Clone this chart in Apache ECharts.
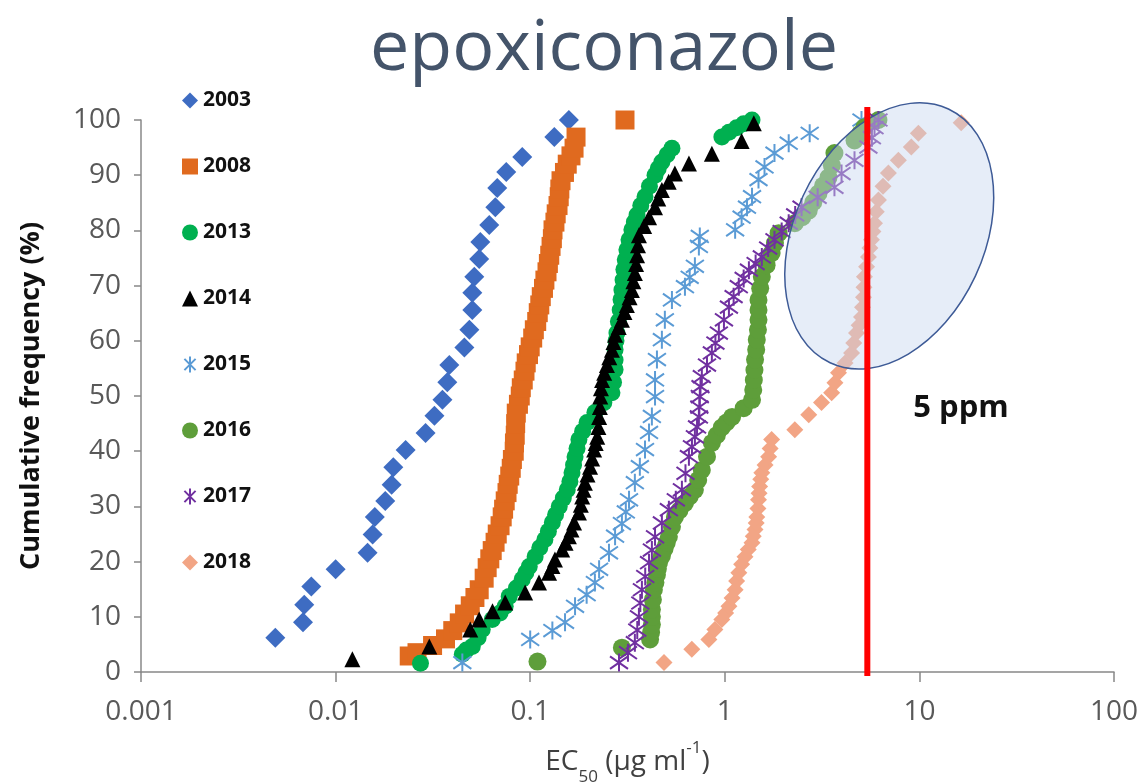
<!DOCTYPE html>
<html>
<head>
<meta charset="utf-8">
<title>epoxiconazole</title>
<script src="https://cdn.jsdelivr.net/npm/echarts@6/dist/echarts.min.js"></script>
<style>
  html, body { margin: 0; padding: 0; background: #fff; }
  #chart { width: 1142px; height: 783px; }
</style>
</head>
<body>
<div id="chart"></div>
<script>
// EC50 (µg/ml) against cumulative frequency (%), one array per sampling year
const years = ['2003', '2008', '2013', '2014', '2015', '2016', '2017', '2018'];
const xTicks = [0.001, 0.01, 0.1, 1, 10, 100];
const ppmLimit = 5.4;

const s2003 = [[0.0049,6.2],[0.0068,9.0],[0.0069,12.2],[0.0075,15.5],[0.0100,18.6],[0.0146,21.6],[0.0155,24.9],[0.0159,28.1],[0.0180,31.0],[0.0194,33.9],[0.0198,37.1],[0.0229,40.2],[0.0290,43.3],[0.0322,46.4],[0.0354,49.3],[0.0375,52.5],[0.0384,55.6],[0.0459,58.8],[0.0487,62.0],[0.0504,65.6],[0.0504,68.7],[0.0516,71.6],[0.0547,74.8],[0.0554,77.9],[0.0616,81.0],[0.0662,84.2],[0.0677,87.7],[0.0753,90.6],[0.0910,93.3],[0.133,96.9],[0.158,100]];
const s2008 = [[0.0239,2.9],[0.0262,3.5],[0.0315,4.8],[0.0367,6.0],[0.040,7.5],[0.0432,8.9],[0.046,10.5],[0.0492,12.0],[0.052,13.5],[0.0547,14.9],[0.058,17.0],[0.0601,18.9],[0.062,20.5],[0.0638,22.0],[0.066,23.5],[0.0677,25.0],[0.070,26.5],[0.0718,28.1],[0.073,29.5],[0.0744,31.0],[0.076,32.5],[0.0771,34.0],[0.0785,35.5],[0.0799,36.9],[0.081,38.5],[0.0828,40.0],[0.083,41.5],[0.0838,42.9],[0.0842,45.0],[0.0848,46.9],[0.087,48.5],[0.0889,50.0],[0.090,51.5],[0.0921,52.9],[0.094,54.5],[0.0954,56.0],[0.098,57.5],[0.100,58.9],[0.103,60.5],[0.105,62.0],[0.108,63.5],[0.110,65.1],[0.112,66.5],[0.114,68.0],[0.117,69.5],[0.119,71.0],[0.122,72.5],[0.124,74.0],[0.126,75.5],[0.128,77.1],[0.130,78.5],[0.131,80.1],[0.134,81.5],[0.136,83.0],[0.139,84.5],[0.141,86.1],[0.142,87.5],[0.144,89.0],[0.150,90.5],[0.155,92.0],[0.162,93.5],[0.168,94.9],[0.172,96.9],[0.307,100]];
const s2013 = [[0.0273,1.6],[0.0448,3.2],[0.047,4.0],[0.0504,4.6],[0.054,6.2],[0.0567,7.7],[0.0638,9.5],[0.070,10.7],[0.0744,11.9],[0.078,13.7],[0.085,15.2],[0.091,16.8],[0.095,18.0],[0.0989,19.1],[0.106,20.9],[0.112,22.5],[0.119,24.0],[0.124,25.5],[0.130,27.1],[0.135,28.5],[0.141,30.0],[0.148,31.5],[0.155,33.0],[0.160,34.5],[0.164,36.1],[0.167,37.5],[0.170,39.0],[0.174,40.5],[0.178,42.1],[0.186,43.6],[0.196,45.2],[0.215,47.0],[0.239,48.8],[0.263,50.6],[0.268,52.5],[0.273,54.8],[0.273,56.5],[0.273,58.4],[0.276,60.0],[0.279,61.4],[0.284,63.5],[0.290,65.6],[0.293,67.5],[0.296,69.2],[0.300,71.0],[0.303,72.9],[0.308,74.7],[0.314,76.5],[0.322,78.3],[0.333,80.1],[0.343,81.5],[0.354,82.8],[0.370,84.5],[0.389,86.1],[0.410,88.0],[0.438,90.0],[0.455,91.2],[0.475,92.4],[0.505,93.7],[0.535,94.9],[0.966,96.9],[1.05,97.8],[1.15,98.6],[1.25,99.3],[1.38,100]];
const s2014 = [[0.0122,2.3],[0.0303,4.6],[0.0492,7.7],[0.0547,9.5],[0.064,11.0],[0.0744,12.6],[0.0942,14.4],[0.111,16.2],[0.125,18.0],[0.130,19.2],[0.134,20.4],[0.146,22.2],[0.152,23.4],[0.158,24.6],[0.163,25.8],[0.168,27.1],[0.178,28.9],[0.182,30.3],[0.185,31.8],[0.188,33.0],[0.191,34.3],[0.197,35.8],[0.203,37.2],[0.208,38.7],[0.213,40.3],[0.217,41.5],[0.221,42.6],[0.224,44.4],[0.226,46.2],[0.228,48.0],[0.229,49.9],[0.231,51.4],[0.234,52.9],[0.240,54.2],[0.248,55.6],[0.255,57.0],[0.263,58.4],[0.268,59.8],[0.273,61.1],[0.285,62.5],[0.296,63.8],[0.305,65.2],[0.314,66.5],[0.324,67.9],[0.333,69.2],[0.339,70.8],[0.345,72.3],[0.350,73.9],[0.354,75.5],[0.358,77.3],[0.362,79.1],[0.385,80.8],[0.408,82.4],[0.438,84.2],[0.455,85.8],[0.475,87.3],[0.515,88.8],[0.554,90.3],[0.654,92.1],[0.858,93.9],[1.22,96.2],[1.41,99.4]];
const s2015 = [[0.0448,1.7],[0.100,5.9],[0.130,7.5],[0.151,9.0],[0.170,11.9],[0.195,14.0],[0.215,16.2],[0.226,18.6],[0.254,21.6],[0.273,24.6],[0.296,26.9],[0.310,29.0],[0.322,31.2],[0.345,34.3],[0.366,37.2],[0.389,40.3],[0.408,43.4],[0.422,46.3],[0.438,49.9],[0.438,52.9],[0.448,56.6],[0.475,60.2],[0.492,63.8],[0.535,67.4],[0.624,69.8],[0.660,71.5],[0.702,73.5],[0.736,77.1],[0.744,78.9],[1.13,80.1],[1.22,82.4],[1.30,84.2],[1.38,86.1],[1.49,89.2],[1.60,91.5],[1.80,94.0],[2.13,95.8],[2.73,97.6],[5.04,100]];
const s2016 = [[0.109,1.9],[0.296,4.4],[0.413,5.9],[0.418,7.2],[0.422,8.6],[0.422,10.0],[0.422,11.3],[0.427,13.1],[0.432,14.9],[0.440,16.2],[0.448,17.6],[0.453,18.7],[0.459,19.8],[0.475,21.0],[0.490,22.3],[0.503,23.4],[0.516,24.5],[0.535,26.3],[0.554,28.1],[0.585,29.3],[0.624,30.6],[0.660,31.8],[0.702,33.0],[0.730,34.8],[0.762,36.6],[0.810,39.0],[0.858,41.5],[0.910,42.9],[0.965,44.3],[1.02,45.2],[1.09,46.2],[1.25,47.8],[1.38,49.3],[1.40,51.1],[1.41,52.9],[1.42,54.7],[1.43,56.6],[1.45,58.4],[1.46,60.2],[1.48,62.0],[1.49,63.8],[1.49,65.6],[1.49,67.4],[1.52,69.5],[1.55,71.6],[1.64,73.7],[1.74,75.9],[1.81,77.7],[1.89,79.5],[2.29,81.3],[2.50,82.4],[2.70,83.6],[2.85,85.1],[3.03,86.7],[3.20,88.1],[3.41,89.6],[3.55,91.8],[3.66,94.0],[4.64,96.3],[4.95,97.5],[5.22,98.7],[6.16,100]];
const s2017 = [[0.286,1.7],[0.318,3.5],[0.345,5.3],[0.355,7.6],[0.362,10.0],[0.368,12.5],[0.375,14.9],[0.390,17.3],[0.408,19.8],[0.422,22.1],[0.438,24.5],[0.475,27.0],[0.516,29.4],[0.560,31.2],[0.602,33.0],[0.628,36.0],[0.654,39.0],[0.678,40.8],[0.702,42.6],[0.720,44.4],[0.736,46.2],[0.740,48.0],[0.744,49.9],[0.750,51.7],[0.762,53.5],[0.810,55.6],[0.858,57.8],[0.895,59.6],[0.932,61.4],[0.990,63.8],[1.05,66.1],[1.11,68.0],[1.18,69.8],[1.25,71.3],[1.33,72.8],[1.44,74.0],[1.55,75.2],[1.67,76.8],[1.80,78.3],[1.96,79.8],[2.13,81.3],[2.30,82.8],[2.48,84.2],[3.00,86.0],[3.66,87.8],[3.98,90.3],[4.64,92.7],[5.47,95.1],[5.70,96.8],[5.88,98.6],[6.16,100]];
const s2018 = [[0.487,1.7],[0.677,4.1],[0.828,5.9],[0.889,7.7],[0.965,9.5],[1.01,10.7],[1.05,11.9],[1.09,13.4],[1.13,14.9],[1.15,16.5],[1.18,18.0],[1.22,19.5],[1.27,20.9],[1.32,22.2],[1.38,23.4],[1.40,24.6],[1.43,25.8],[1.45,27.0],[1.46,28.1],[1.48,29.6],[1.49,31.2],[1.50,32.4],[1.51,33.6],[1.53,34.9],[1.55,36.1],[1.61,37.5],[1.68,39.0],[1.71,40.5],[1.74,42.1],[2.29,43.9],[2.70,46.6],[3.14,48.8],[3.54,50.6],[3.68,52.4],[3.84,54.2],[4.15,56.0],[4.48,57.8],[4.60,59.6],[4.75,61.4],[4.90,62.8],[5.04,64.3],[5.10,66.1],[5.16,67.9],[5.19,69.7],[5.22,71.6],[5.35,73.4],[5.47,75.2],[5.57,76.8],[5.67,78.3],[5.77,79.8],[5.88,81.3],[6.00,83.4],[6.16,85.5],[6.50,88.0],[6.93,90.4],[7.80,92.7],[9.09,95.1],[9.88,97.6],[16.4,99.5]];

const seriesData = [s2003, s2008, s2013, s2014, s2015, s2016, s2017, s2018];

// asterisk marker: vertical bar crossed by an X
const star = 'path://M10,0L10,20M3,3L17,17M3,17L17,3';

const styles = [
  { symbol: 'diamond', size: 20, color: '#3E6CC2' },
  { symbol: 'rect', size: 19, color: '#E06A1F' },
  { symbol: 'circle', size: 17, color: '#00B050' },
  { symbol: 'triangle', size: 16, color: '#000000' },
  { symbol: star, size: 18, color: '#5B9BD5', stroke: true },
  { symbol: 'circle', size: 18, color: '#5E9E3A' },
  { symbol: star, size: 18, color: '#7030A0', stroke: true },
  { symbol: 'diamond', size: 17, color: '#F2A585' },
];

const chart = echarts.init(document.getElementById('chart'));

const font = "'Open Sans', sans-serif";

chart.setOption({
  animation: false,
  textStyle: { fontFamily: font },
  grid: { left: 141, right: 28, top: 120, bottom: 111, outerBoundsMode: 'none' },
  legend: {
    orient: 'vertical',
    left: 177,
    top: 85,
    itemWidth: 16,
    itemHeight: 16,
    itemGap: 45,
    textStyle: { fontSize: 21, fontWeight: 'bold', color: '#111' },
    data: years,
  },
  xAxis: {
    type: 'log',
    logBase: 10,
    min: xTicks[0],
    max: xTicks[xTicks.length - 1],
    splitLine: { show: false },
    minorTick: { show: false },
    axisLine: { lineStyle: { color: '#888', width: 1.5 } },
    axisTick: { length: 10, lineStyle: { color: '#888', width: 1.5 } },
    axisLabel: {
      fontSize: 28,
      color: '#595959',
      margin: 26,
      formatter: (v) => String(v),
    },
    name: '{n|EC}{sub|50}{n| (µg ml}{sup|-1}{n|)}',
    nameLocation: 'middle',
    nameGap: 76,
    nameTextStyle: {
      rich: {
        n: { fontSize: 28, color: '#404040', fontFamily: font },
        sub: { fontSize: 17, color: '#404040', fontFamily: font, verticalAlign: 'bottom', padding: [0, 0, -10, 0] },
        sup: { fontSize: 17, color: '#404040', fontFamily: font, verticalAlign: 'top', padding: [-8, 0, 0, 0] },
      },
    },
  },
  yAxis: {
    type: 'value',
    min: 0,
    max: 100,
    interval: 10,
    splitLine: { show: false },
    axisLine: { show: true, lineStyle: { color: '#888', width: 1.5 } },
    axisTick: { show: true, length: 7, lineStyle: { color: '#888', width: 1.5 } },
    axisLabel: { fontSize: 28, color: '#595959', margin: 20 },
    name: 'Cumulative frequency (%)',
    nameLocation: 'middle',
    nameGap: 96,
    nameTextStyle: { fontSize: 27, fontWeight: 'bold', color: '#111' },
  },
  series: years.map((y, i) => {
    const st = styles[i];
    return {
      name: y,
      type: 'scatter',
      data: seriesData[i],
      symbol: st.symbol,
      symbolSize: st.size,
      itemStyle: st.stroke
        ? { color: 'rgba(0,0,0,0)', borderColor: st.color, borderWidth: 2, opacity: 1 }
        : { color: st.color, opacity: 1 },
      emphasis: { disabled: true },
    };
  }),
});

// annotations: shaded ellipse, 5 ppm reference line, its label and the title
const lineTop = chart.convertToPixel({ gridIndex: 0 }, [ppmLimit, 100]);
const lineBottom = chart.convertToPixel({ gridIndex: 0 }, [ppmLimit, 0]);
const ellipseCentre = chart.convertToPixel({ gridIndex: 0 }, [7.0, 79]);

chart.setOption({
  graphic: [
    {
      type: 'text',
      x: 604,
      y: 50,
      style: {
        text: 'epoxiconazole',
        fontSize: 70,
        fontFamily: font,
        fill: '#44546A',
        align: 'center',
        verticalAlign: 'middle',
      },
    },
    {
      type: 'ellipse',
      x: ellipseCentre[0],
      y: ellipseCentre[1],
      rotation: -25 * Math.PI / 180,
      shape: { cx: 0, cy: 0, rx: 95, ry: 140 },
      style: { fill: 'rgba(200,215,240,0.45)', stroke: '#3D5A96', lineWidth: 1.5 },
      z: 50,
    },
    {
      type: 'line',
      shape: { x1: lineTop[0], y1: lineTop[1] - 13, x2: lineBottom[0], y2: lineBottom[1] + 4 },
      style: { stroke: '#FF0000', lineWidth: 6 },
      z: 60,
    },
    {
      type: 'text',
      x: lineTop[0] + 46,
      y: 408,
      style: {
        text: '5 ppm',
        fontSize: 31,
        fontWeight: 'bold',
        fontFamily: font,
        fill: '#111',
        verticalAlign: 'middle',
      },
      z: 60,
    },
  ],
});
</script>
</body>
</html>
